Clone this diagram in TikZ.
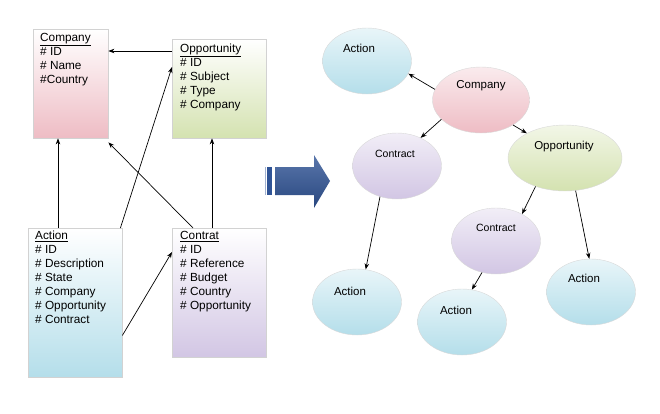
\documentclass[tikz,border=0pt]{standalone}
\usepackage{fontspec}
\setmainfont{Liberation Sans}
\usepackage{tikz}
\usetikzlibrary{shapes.geometric, arrows.meta, positioning, shadows}
\definecolor{figpink}{RGB}{238,188,196}
\definecolor{figgreen}{RGB}{212,226,176}
\definecolor{figcyan}{RGB}{180,222,234}
\definecolor{figlilac}{RGB}{210,198,228}
\definecolor{figblue}{RGB}{48,84,150}
\tikzstyle{tbl} = [rectangle, draw=gray!35, anchor=north west, inner sep=0pt,
    drop shadow={opacity=0.25, shadow xshift=1.2pt, shadow yshift=-1.2pt}]
\tikzstyle{attr} = [anchor=north west, align=left, inner sep=0pt, font=\fontsize{11.8}{14}\selectfont]
\tikzstyle{oval} = [ellipse, draw=gray!30, inner sep=0pt, minimum width=89pt, minimum height=66pt]
\tikzstyle{ovtxt} = [inner sep=0pt, font=\fontsize{11.5}{13}\selectfont]
\tikzstyle{link} = [-{Stealth[length=6pt, width=4.5pt]}, line width=0.7pt, draw=black]

\begin{document}
\begin{tikzpicture}[x=1pt, y=-1pt]
    \useasboundingbox (0,0) rectangle (660,413);
    % tables
    \node[tbl, top color=white, bottom color=figpink, minimum width=75pt, minimum height=109pt] (company) at (33,29) {};
    \node[tbl, top color=white, bottom color=figgreen, minimum width=94pt, minimum height=99pt] (opport) at (172,39) {};
    \node[tbl, top color=white, bottom color=figcyan, minimum width=94pt, minimum height=149pt] (action) at (28,228) {};
    \node[tbl, top color=white, bottom color=figlilac, minimum width=94pt, minimum height=129pt] (contrat) at (172,228) {};
    \node[attr] (companytxt) at (40,33) {\underline{Company}\\\# ID\\\# Name\\\#Country};
    \node[attr] (opporttxt) at (180,44) {\underline{Opportunity}\\\# ID\\\# Subject\\\# Type\\\# Company};
    \node[attr] (actiontxt) at (35,231) {\underline{Action}\\\# ID\\\# Description\\\# State\\\# Company\\\# Opportunity\\\# Contract};
    \node[attr] (contrattxt) at (180,231) {\underline{Contrat}\\\# ID\\\# Reference\\\# Budget\\\# Country\\\# Opportunity};
    \draw[link] ([yshift=-12pt]opport.north west) -- ([yshift=-22pt]company.north east);
    \draw[link] ([xshift=30pt]action.north west) -- ([xshift=25pt]company.south west);
    \draw[link] ([xshift=-2pt]action.north east) -- ([yshift=-28pt]opport.north west);
    \draw[link] ([xshift=21pt]contrat.north west) -- ([yshift=-4pt]company.south east);
    \draw[link] ([xshift=40pt]contrat.north west) -- ([xshift=40pt]opport.south west);
    \draw[link] ([yshift=42pt]action.south east) -- ([yshift=-24pt]contrat.north west);
    % big arrow
    \fill[figblue!45] (265,167) rectangle (266,195);
    \fill[figblue] (267,167) rectangle (272,195);
    \shade[top color=figblue!80!white, bottom color=figblue!85!black]
        (275,167) -- (314,167) -- (314,155) -- (330,181) -- (314,208) -- (314,195) -- (275,195) -- cycle;
    % objects
    \node[oval, top color=figcyan!30!white, bottom color=figcyan] (eact) at (367,61) {};
    \node[oval, minimum width=97pt, top color=figpink!30!white, bottom color=figpink] (ecomp) at (481,100) {};
    \node[oval, top color=figlilac!30!white, bottom color=figlilac] (ectr) at (397,166) {};
    \node[oval, minimum width=114pt, top color=figgreen!30!white, bottom color=figgreen] (eopp) at (565,158) {};
    \node[oval, top color=figlilac!30!white, bottom color=figlilac] (ectrb) at (496,241) {};
    \node[oval, top color=figcyan!30!white, bottom color=figcyan] (eacta) at (357,302) {};
    \node[oval, top color=figcyan!30!white, bottom color=figcyan] (eactb) at (462,322) {};
    \node[oval, top color=figcyan!30!white, bottom color=figcyan] (eactc) at (591,292) {};
    \node[ovtxt] (eactt) at (359,48) {Action};
    \node[ovtxt] (ecompt) at (481,86) {Company};
    \node[ovtxt, font=\fontsize{10.5}{12}\selectfont] (ectrt) at (395,154) {Contract};
    \node[ovtxt] (eoppt) at (564,147) {Opportunity};
    \node[ovtxt, font=\fontsize{10.5}{12}\selectfont] (ectrbt) at (496,228) {Contract};
    \node[ovtxt] (eactat) at (350,291) {Action};
    \node[ovtxt] (eactbt) at (456,310) {Action};
    \node[ovtxt] (eactct) at (584,278) {Action};
    \draw[link] (ecomp.167) -- (eact.343);
    \draw[link] (ecomp.206) -- (ectr.50);
    \draw[link] (ecomp.322) -- (eopp.147);
    \draw[link] (eopp.224) -- (ectrb.46);
    \draw[link] (eopp.288) -- (eactc.93);
    \draw[link] (ectr.241) -- (eacta.75);
    \draw[link] (ectrb.246) -- (eactb.73);
\end{tikzpicture}
\end{document}
